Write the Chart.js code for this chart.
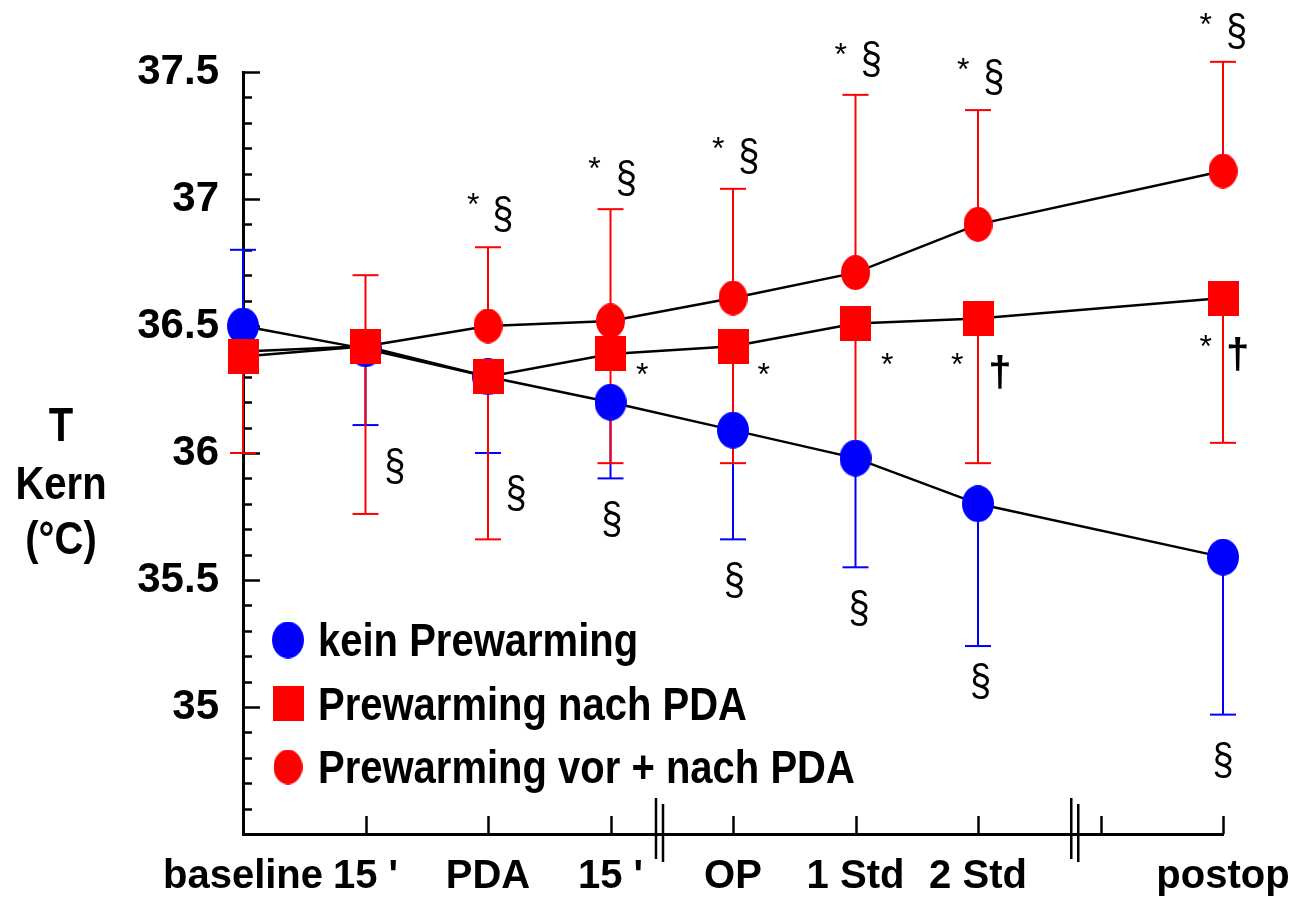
<!DOCTYPE html>
<html><head><meta charset="utf-8">
<script src="https://cdn.jsdelivr.net/npm/chart.js@4.4.1/dist/chart.umd.min.js"></script>
<style>html,body{margin:0;padding:0;background:#fff}#wrap{width:1293px;height:905px}</style>
</head><body><div id="wrap"><canvas id="c" width="1293" height="905"></canvas></div>
<script>
// ---- data ----
const categories = ['baseline', "15 '", 'PDA', "15 '", 'OP', '1 Std', '2 Std', 'postop'];
const categoryPos = [0, 1, 2, 3, 4, 5, 6, 8];
const xTickLabels = ['baseline', "15 '", 'PDA', "15 '", 'OP', '1 Std', '2 Std', '', 'postop'];
const yLabelValues = [35, 35.5, 36, 36.5, 37, 37.5];
const axisBreaks = [3.4, 6.79];

const keinPrewarming = [36.50, 36.41, 36.30, 36.20, 36.09, 35.98, 35.80, 35.59];
const keinUpper      = [36.80, null, null, null, null, null, null, null];
const keinLower      = [null, 36.11, 36.00, 35.90, 35.66, 35.55, 35.24, 34.97];

const nachPDA        = [36.38, 36.42, 36.30, 36.39, 36.42, 36.51, 36.53, 36.61];
const nachPDALower   = [36.00, 35.76, 35.66, 35.96, 35.96, 35.98, 35.96, 36.04];

const vorNachPDA     = [36.40, 36.42, 36.50, 36.52, 36.61, 36.71, 36.90, 37.11];
const vorNachUpper   = [null, 36.70, 36.81, 36.96, 37.04, 37.41, 37.35, 37.54];

const seriesNames = ['kein Prewarming', 'Prewarming nach PDA', 'Prewarming vor + nach PDA'];

// significance marks: [text, x (category position), y (°C)]
const notes = [
  ['*', 1.88, 37.00], ['§', 2.12, 36.94],
  ['*', 2.87, 37.14], ['§', 3.13, 37.08],
  ['*', 3.88, 37.22], ['§', 4.13, 37.17],
  ['*', 4.88, 37.59], ['§', 5.13, 37.55],
  ['*', 5.88, 37.53], ['§', 6.13, 37.48],
  ['*', 7.86, 37.71], ['§', 8.11, 37.66],
  ['*', 3.26, 36.33], ['*', 4.25, 36.33], ['*', 5.26, 36.37],
  ['*', 5.83, 36.37], ['†', 6.18, 36.32],
  ['*', 7.86, 36.44], ['†', 8.12, 36.39],
  ['§', 1.24, 35.95], ['§', 2.23, 35.84], ['§', 3.01, 35.74],
  ['§', 4.01, 35.50], ['§', 5.03, 35.39], ['§', 6.02, 35.10], ['§', 8.00, 34.79]
];

// ---- marker images ----
function ellipseImg(w, h, color) {
  const c = document.createElement('canvas'); c.width = w; c.height = h;
  const g = c.getContext('2d'); g.fillStyle = color; g.beginPath();
  g.ellipse(w / 2, h / 2, w / 2, h / 2, 0, 0, Math.PI * 2); g.fill(); return c;
}
function rectImg(w, h, color) {
  const c = document.createElement('canvas'); c.width = w; c.height = h;
  const g = c.getContext('2d'); g.fillStyle = color; g.fillRect(0, 0, w, h); return c;
}
const blueDot = ellipseImg(32, 37, '#0000ff');
const redSquare = rectImg(31, 35, '#ff0000');
const redDot = ellipseImg(29, 35, '#ff0000');

const FONT = "'Liberation Sans', Arial, sans-serif";

function toPoints(vals) { return categoryPos.map((x, i) => ({ x: x, y: vals[i] })); }

const datasets = [
  { label: seriesNames[0], data: toPoints(keinPrewarming), errUp: keinUpper, errDown: keinLower, errColor: '#0000ff', pointStyle: blueDot, order: 2 },
  { label: seriesNames[1], data: toPoints(nachPDA), errUp: [], errDown: nachPDALower, errColor: '#ff0000', pointStyle: redSquare, order: 1 },
  { label: seriesNames[2], data: toPoints(vorNachPDA), errUp: vorNachUpper, errDown: [], errColor: '#ff0000', pointStyle: redDot, order: 3 }
].map(d => Object.assign(d, {
  showLine: true, borderColor: '#000', borderWidth: 2.5, pointRadius: 16, pointHoverRadius: 16,
  backgroundColor: d.errColor, fill: false, tension: 0, clip: false
}));

function drawInk(ctx, text, x, y, font, sy, align) {
  ctx.save();
  ctx.font = font; ctx.textAlign = align || 'center'; ctx.textBaseline = 'alphabetic';
  const m = ctx.measureText(text);
  const off = (m.actualBoundingBoxAscent - m.actualBoundingBoxDescent) / 2;
  ctx.translate(x, y); ctx.scale(1, sy || 1);
  ctx.fillText(text, 0, off);
  ctx.restore();
}
function drawCap(ctx, text, x, y, font, sy, align) {
  ctx.save();
  ctx.font = font; ctx.textAlign = align || 'center'; ctx.textBaseline = 'alphabetic';
  const cap = ctx.measureText('H').actualBoundingBoxAscent;
  ctx.translate(x, y); ctx.scale(1, sy || 1);
  ctx.fillText(text, 0, cap / 2);
  ctx.restore();
}

const decor = {
  id: 'decor',
  beforeDatasetsDraw(chart) {
    const ctx = chart.ctx, xs = chart.scales.x, ys = chart.scales.y, ca = chart.chartArea;
    ctx.save();
    ctx.strokeStyle = '#000'; ctx.lineWidth = 2.5; ctx.lineCap = 'butt';
    // inward y ticks
    ys.ticks.forEach(t => {
      const v = t.value; const major = Math.abs(v * 2 - Math.round(v * 2)) < 1e-6;
      const y = Math.round(ys.getPixelForValue(v)) + 0.5;
      ctx.beginPath(); ctx.moveTo(ca.left, y); ctx.lineTo(ca.left + (major ? 17 : 9), y); ctx.stroke();
    });
    // inward x ticks
    xs.ticks.forEach(t => {
      if (t.value <= 0) return;
      const x = Math.round(xs.getPixelForValue(t.value)) + 0.5;
      ctx.beginPath(); ctx.moveTo(x, ca.bottom); ctx.lineTo(x, ca.bottom - 18); ctx.stroke();
    });
    // axis breaks
    axisBreaks.forEach(b => {
      const x = xs.getPixelForValue(b);
      ctx.beginPath(); ctx.moveTo(x - 3.5, ca.bottom - 36); ctx.lineTo(x - 3.5, ca.bottom + 25); ctx.stroke();
      ctx.beginPath(); ctx.moveTo(x + 3.5, ca.bottom - 30); ctx.lineTo(x + 3.5, ca.bottom + 28); ctx.stroke();
    });
    // error bars
    ctx.lineWidth = 2;
    chart.data.datasets.forEach(ds => {
      ds.data.forEach((p, j) => {
        const x = xs.getPixelForValue(p.x), y0 = ys.getPixelForValue(p.y);
        [ds.errUp[j], ds.errDown[j]].forEach(e => {
          if (e === null || e === undefined) return;
          const y1 = ys.getPixelForValue(e);
          ctx.strokeStyle = ds.errColor;
          ctx.beginPath(); ctx.moveTo(x, y0); ctx.lineTo(x, y1); ctx.stroke();
          ctx.beginPath(); ctx.moveTo(x - 13, y1); ctx.lineTo(x + 13, y1); ctx.stroke();
        });
      });
    });
    ctx.restore();
  },
  afterDraw(chart) {
    const ctx = chart.ctx, xs = chart.scales.x, ys = chart.scales.y, ca = chart.chartArea;
    ctx.save();
    ctx.fillStyle = '#000';
    const noteFont = {
      '*': ['32px ' + FONT, 1],
      '§': ['38px ' + FONT, 1.15],
      '†': ['bold 42px ' + FONT, 1]
    };
    notes.forEach(n => {
      const f = noteFont[n[0]];
      drawInk(ctx, n[0], xs.getPixelForValue(n[1]), ys.getPixelForValue(n[2]), f[0], f[1], 'center');
    });
    // legend
    chart.data.datasets.forEach((ds, i) => {
      const y = ca.bottom - 194 + i * 63.5;
      const img = ds.pointStyle;
      ctx.drawImage(img, ca.left + 45 - img.width / 2, y - img.height / 2);
      drawCap(ctx, ds.label, ca.left + 75, y, 'bold 40px ' + FONT, 1.15, 'left');
    });
    // y axis title
    drawCap(ctx, 'T', 61, 424, 'bold 40px ' + FONT, 1.2, 'center');
    drawCap(ctx, 'Kern', 61, 483, 'bold 40px ' + FONT, 1.15, 'center');
    drawCap(ctx, '(°C)', 61, 538, 'bold 40px ' + FONT, 1.15, 'center');
    ctx.restore();
  }
};

new Chart(document.getElementById('c'), {
  type: 'scatter',
  data: { datasets: datasets },
  options: {
    responsive: false, animation: false, devicePixelRatio: 1,
    layout: { padding: { top: 72, right: 70, left: 0, bottom: 0 } },
    plugins: { legend: { display: false }, tooltip: { enabled: false } },
    scales: {
      x: {
        type: 'linear', min: 0, max: 8,
        border: { display: true, color: '#000', width: 3 },
        grid: { display: false, drawTicks: false },
        ticks: {
          stepSize: 1, autoSkip: false, maxRotation: 0, minRotation: 0, color: '#000', padding: 19,
          font: { family: FONT, size: 40, weight: 'bold' },
          callback: v => { const k = Math.round(v); return xTickLabels[k] !== undefined ? xTickLabels[k] : ''; }
        },
        afterFit: s => { s.height = 71; s.paddingLeft = 0; s.paddingRight = 0; }
      },
      y: {
        type: 'linear', min: 34.5, max: 37.5,
        border: { display: true, color: '#000', width: 3 },
        grid: { display: false, drawTicks: false },
        ticks: {
          stepSize: 0.1, autoSkip: false, color: '#000', padding: 24,
          font: { family: FONT, size: 42, weight: 'bold' },
          callback: v => { const r = Math.round(v * 10) / 10; return yLabelValues.includes(r) ? String(r) : ''; }
        },
        afterFit: s => { s.width = 243; s.paddingTop = 0; s.paddingBottom = 0; }
      }
    }
  },
  plugins: [decor]
});
</script>
</body></html>
